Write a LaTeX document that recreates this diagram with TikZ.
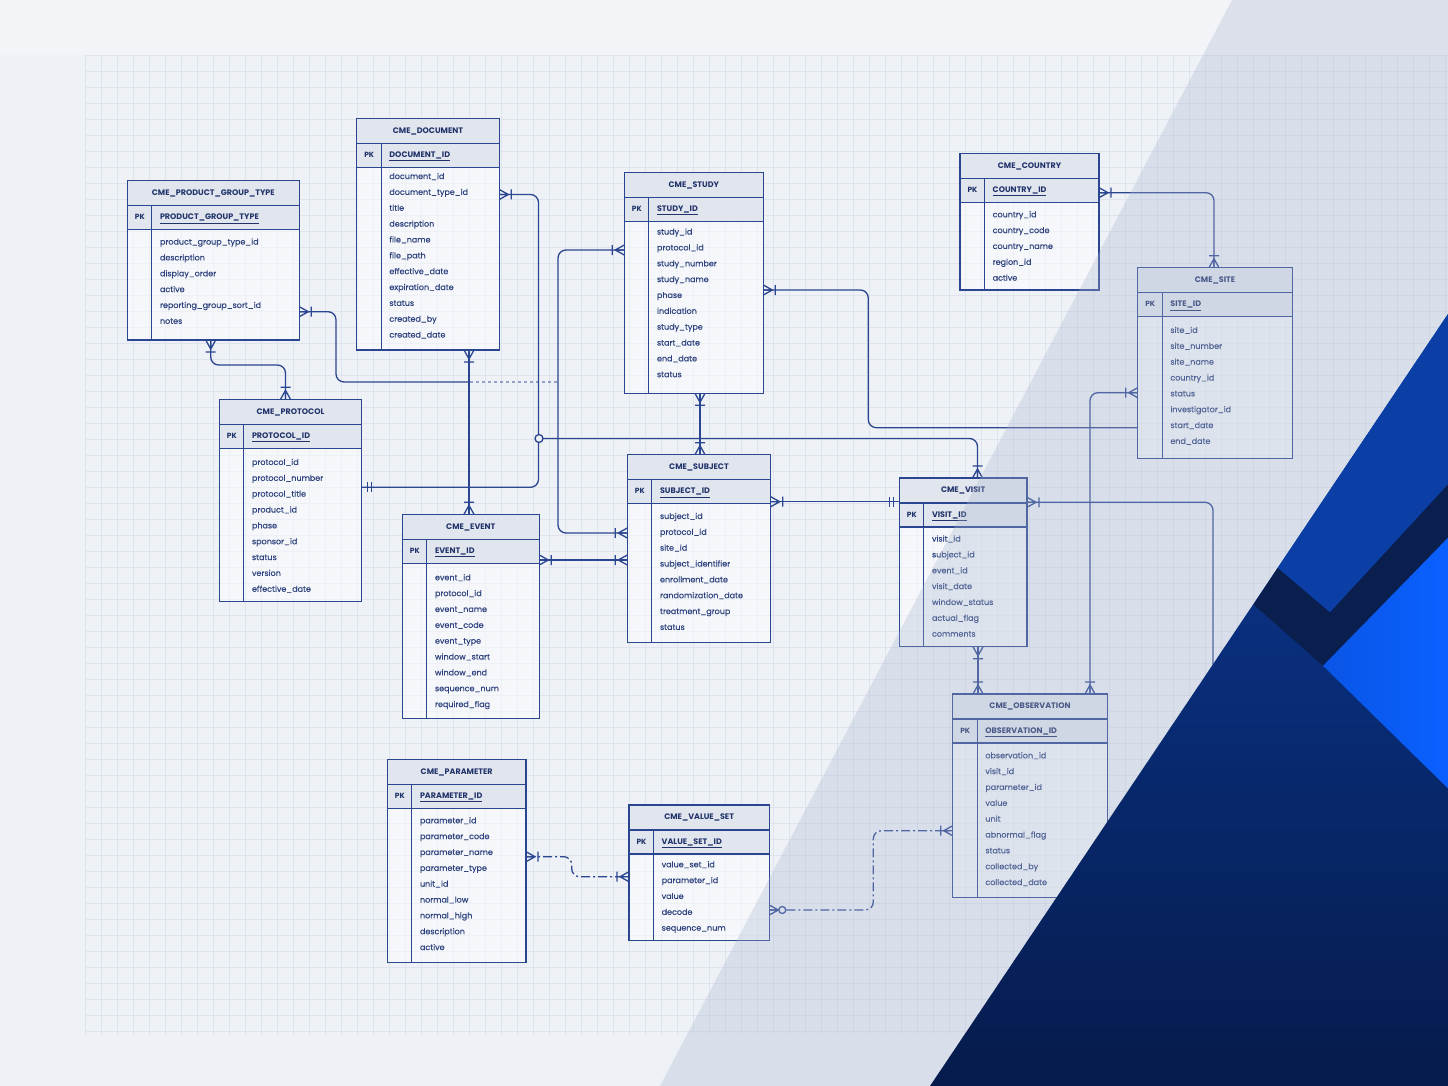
\documentclass[tikz,border=0pt]{standalone}
\usepackage{fontspec}
\setmainfont{Poppins}
\newfontfamily\fldfont{Poppins}[FakeBold=0.35]
\usetikzlibrary{calc}
\definecolor{bg}{HTML}{EEF1F6}
\definecolor{bgtop}{HTML}{F2F4F8}
\definecolor{grd}{HTML}{DFE4EC}
\definecolor{ln}{HTML}{2B4690}
\definecolor{tx}{HTML}{2E427E}
\definecolor{ttx}{HTML}{22336B}
\definecolor{hd}{HTML}{E1E6EE}
\definecolor{ovl}{HTML}{A7B5CF}
\definecolor{blA}{HTML}{0B3C9E}
\definecolor{blAb}{HTML}{061B4C}
\definecolor{blB}{HTML}{0B3FA6}
\definecolor{blC}{HTML}{0A1F4E}
\definecolor{blD}{HTML}{0A55E6}
\definecolor{blDr}{HTML}{0A60FF}
\tikzset{
  conn/.style={draw=ln, line width=1.3pt, rounded corners=8pt},
  ddash/.style={dash pattern=on 9pt off 3pt on 2pt off 3pt},
  mk/.style={draw=ln, line width=1.3pt},
  tblbody/.style={fill=white, fill opacity=.45, inner sep=0pt, outer sep=0pt},
  tline/.style={draw=ln, line width=1.2pt},
  tborder/.style={draw=ln, line width=1.5pt},
  ttl/.style={font=\bfseries\fontsize{8}{9}\selectfont, text=ttx, inner sep=0pt, text height=6pt, text depth=1.5pt},
  pkl/.style={font=\bfseries\fontsize{7.5}{9}\selectfont, text=ttx, inner sep=0pt, text height=6pt, text depth=1.5pt},
  pkn/.style={anchor=west, font=\bfseries\fontsize{8}{9}\selectfont, text=ttx, inner sep=0pt, text height=6pt, text depth=1.5pt},
  fld/.style={anchor=west, font=\fldfont\fontsize{8}{9}\selectfont, text=tx, inner sep=0pt, text height=6pt, text depth=1.5pt},
  mmany/.pic={\draw[mk] (0,-5) -- (9,0) -- (0,5) (0,0) -- (9,0) (12,-5) -- (12,5);},
  mone/.pic={\draw[mk] (6,-5) -- (6,5) (10,-5) -- (10,5);},
  zmany/.pic={\draw[mk] (0,-5) -- (9,0) -- (0,5) (0,0) -- (9,0); \draw[mk, fill=bg] (13,0) circle (3.5pt);},
  zcirc/.pic={\draw[mk, fill=bg] (0,0) circle (4pt);},
}
% name, x1, y1, x2, y2, title, pk, fields, first field offset
\newcommand\ertable[9]{%
  \pgfmathsetmacro\tw{#4-#2}\pgfmathsetmacro\th{#5-#3}%
  \node[tblbody, minimum width=\tw pt, minimum height=\th pt, anchor=north west] (#1) at (#2,#3) {};
  \fill[hd] (#1.north west) rectangle ([yshift=-49pt]#1.north east);
  \draw[tline] ([yshift=-25pt]#1.north west) -- ([yshift=-25pt]#1.north east);
  \draw[tline] ([yshift=-49pt]#1.north west) -- ([yshift=-49pt]#1.north east);
  \draw[tline] ([xshift=24.5pt,yshift=-25pt]#1.north west) -- ([xshift=24.5pt]#1.south west);
  \draw[tborder] (#1.north west) rectangle (#1.south east);
  \node[ttl] (#1-t) at ([yshift=-12.5pt]#1.north) {#6};
  \node[pkl] (#1-pkl) at ([xshift=12.5pt,yshift=-37pt]#1.north west) {PK};
  \node[pkn] (#1-pk) at ([xshift=32.5pt,yshift=-37pt]#1.north west) {\underline{#7}};
  \foreach \f [count=\i] in {#8} {%
    \pgfmathsetmacro\yy{#9+(\i-1)*15.85}%
    \node[fld] (#1-\i) at ([xshift=32.5pt,yshift=-\yy pt]#1.north west) {\f};}
}
\begin{document}
\begin{tikzpicture}[x=1pt,y=-1pt]
\useasboundingbox (0,0) rectangle (1448,1086);
\fill[bg] (0,0) rectangle (1448,1086);
\fill[bgtop] (0,0) rectangle (1448,55);
% grid
\foreach \gx in {85,101,...,1448} \draw[grd, line width=.5pt] (\gx,55) -- (\gx,1035);
\foreach \gy in {55,71,...,1035} \draw[grd, line width=.5pt] (85,\gy) -- (1448,\gy);

% tables
\ertable{pgt}{127.3}{180.7}{299.3}{340}{CME\_PRODUCT\_GROUP\_TYPE}{PRODUCT\_GROUP\_TYPE}{product\_group\_type\_id,description,display\_order,active,reporting\_group\_sort\_id,notes}{61.6}
\ertable{doc}{356.7}{118.3}{499.3}{350}{CME\_DOCUMENT}{DOCUMENT\_ID}{document\_id,document\_type\_id,title,description,file\_name,file\_path,effective\_date,expiration\_date,status,created\_by,created\_date}{58.5}
\ertable{study}{624.3}{172.3}{763.3}{393.3}{CME\_STUDY}{STUDY\_ID}{study\_id,protocol\_id,study\_number,study\_name,phase,indication,study\_type,start\_date,end\_date,status}{60}
\ertable{country}{960}{153.3}{1099}{290}{CME\_COUNTRY}{COUNTRY\_ID}{country\_id,country\_code,country\_name,region\_id,active}{61.7}
\ertable{site}{1137.7}{267.7}{1292.3}{458.3}{CME\_SITE}{SITE\_ID}{site\_id,site\_number,site\_name,country\_id,status,investigator\_id,start\_date,end\_date}{63}
\ertable{protocol}{219.3}{399.3}{361.7}{601.7}{CME\_PROTOCOL}{PROTOCOL\_ID}{protocol\_id,protocol\_number,protocol\_title,product\_id,phase,sponsor\_id,status,version,effective\_date}{63.4}
\ertable{event}{402.3}{514.3}{539.3}{718.3}{CME\_EVENT}{EVENT\_ID}{event\_id,protocol\_id,event\_name,event\_code,event\_type,window\_start,window\_end,sequence\_num,required\_flag}{63.7}
\ertable{subject}{627.3}{454.7}{770.7}{642.3}{CME\_SUBJECT}{SUBJECT\_ID}{subject\_id,protocol\_id,site\_id,subject\_identifier,enrollment\_date,randomization\_date,treatment\_group,status}{62}
\ertable{visit}{899.3}{478}{1027}{646.7}{CME\_VISIT}{VISIT\_ID}{visit\_id,subject\_id,event\_id,visit\_date,window\_status,actual\_flag,comments}{61.3}
\ertable{obs}{952.7}{694}{1107.3}{897.3}{CME\_OBSERVATION}{OBSERVATION\_ID}{observation\_id,visit\_id,parameter\_id,value,unit,abnormal\_flag,status,collected\_by,collected\_date}{62}
\ertable{param}{387.3}{759.3}{526}{962.3}{CME\_PARAMETER}{PARAMETER\_ID}{parameter\_id,parameter\_code,parameter\_name,parameter\_type,unit\_id,normal\_low,normal\_high,description,active}{61.7}
\ertable{valset}{629}{805}{769.3}{940.7}{CME\_VALUE\_SET}{VALUE\_SET\_ID}{value\_set\_id,parameter\_id,value,decode,sequence\_num}{60}

% junction coordinates
\coordinate (j1) at ([xshift=-66.3pt,yshift=-209.7pt]study.north west);
\coordinate (j2) at ([xshift=39.7pt,yshift=-320.2pt]doc.north east);
\coordinate (c12end) at ([xshift=186pt,yshift=-290pt]visit.north east);

% connectors
\draw[conn] ([xshift=83.4pt]pgt.south west) -- ++(0,25) -| ([xshift=66.2pt]protocol.north west);
\draw[conn] ([yshift=-131pt]pgt.north east) -| (336,382) -- (470,382);
\draw[conn, rounded corners=0pt, dashed, draw opacity=.45] (470,382) -- (j1);
\draw[conn] ([yshift=-77.7pt]study.north west) -| (558,533) -- ([yshift=-78.3pt]subject.north west);
\draw[conn] ([yshift=-76.2pt]doc.north east) -| (538.5,487.3) -- ([yshift=-88pt]protocol.north east);
\draw[conn] (j2) -| ([xshift=78.2pt]visit.north west);
\draw[conn] ([xshift=112.3pt]doc.south west) -- ([xshift=66.7pt]event.north west);
\draw[conn] ([xshift=75.7pt]study.south west) -- ([xshift=72.7pt]subject.north west);
\draw[conn] ([yshift=-117.7pt]study.north east) -| (868.3,427.7) -- ([yshift=-160pt]site.north west);
\draw[conn] ([yshift=-39.4pt]country.north east) -| ([xshift=76.3pt]site.north west);
\draw[conn] ([yshift=-47pt]subject.north east) -- ([yshift=-23.7pt]visit.north west);
\draw[conn] ([yshift=-45.7pt]event.north east) -- ([yshift=-105.3pt]subject.north west);
\draw[conn] ([yshift=-24.3pt]visit.north east) -| (c12end);
\draw[conn] ([xshift=78.7pt]visit.south west) -- ([xshift=25.3pt]obs.north west);
\draw[conn] ([yshift=-125pt]site.north west) -| ([xshift=137.3pt]obs.north west);
\draw[conn, ddash] ([yshift=-97.4pt]param.north east) -| (571.7,876.7) -- ([yshift=-71.7pt]valset.north west);
\draw[conn, ddash] ([yshift=-105pt]valset.north east) -| (873.3,830.7) -- ([yshift=-136.7pt]obs.north west);

% markers
\pic[rotate=-90] at ([xshift=83.4pt]pgt.south west) {mmany};
\pic[rotate=90] at ([xshift=66.2pt]protocol.north west) {mmany};
\pic at ([yshift=-131pt]pgt.north east) {mmany};
\pic[rotate=180] at ([yshift=-77.7pt]study.north west) {mmany};
\pic[rotate=180] at ([yshift=-78.3pt]subject.north west) {mmany};
\pic at ([yshift=-76.2pt]doc.north east) {mmany};
\pic at ([yshift=-88pt]protocol.north east) {mone};
\pic at (j2) {zcirc};
\pic[rotate=90] at ([xshift=78.2pt]visit.north west) {mmany};
\pic[rotate=-90] at ([xshift=112.3pt]doc.south west) {mmany};
\pic[rotate=90] at ([xshift=66.7pt]event.north west) {mmany};
\pic[rotate=-90] at ([xshift=75.7pt]study.south west) {mmany};
\pic[rotate=90] at ([xshift=72.7pt]subject.north west) {mmany};
\pic at ([yshift=-117.7pt]study.north east) {mmany};
\pic at ([yshift=-39.4pt]country.north east) {mmany};
\pic[rotate=90] at ([xshift=76.3pt]site.north west) {mmany};
\pic at ([yshift=-47pt]subject.north east) {mmany};
\pic[rotate=180] at ([yshift=-23.7pt]visit.north west) {mone};
\pic at ([yshift=-45.7pt]event.north east) {mmany};
\pic[rotate=180] at ([yshift=-105.3pt]subject.north west) {mmany};
\pic at ([yshift=-24.3pt]visit.north east) {mmany};
\pic[rotate=-90] at ([xshift=78.7pt]visit.south west) {mmany};
\pic[rotate=90] at ([xshift=25.3pt]obs.north west) {mmany};
\pic[rotate=180] at ([yshift=-125pt]site.north west) {mmany};
\pic[rotate=90] at ([xshift=137.3pt]obs.north west) {mmany};
\pic at ([yshift=-97.4pt]param.north east) {mmany};
\pic[rotate=180] at ([yshift=-71.7pt]valset.north west) {mmany};
\pic at ([yshift=-105pt]valset.north east) {zmany};
\pic[rotate=180] at ([yshift=-136.7pt]obs.north west) {mmany};

% diagonal overlay
\fill[ovl, opacity=.3] (1232,0) -- (1448,0) -- (1448,1086) -- (660,1086) -- cycle;

% blue shapes
\shade[top color=blA, bottom color=blAb] (930,1086) -- (1448,314) -- (1448,1086) -- cycle;
\fill[blB] (1277.6,568) -- (1448,314) -- (1448,484.5) -- (1330,612.5) -- cycle;
\fill[blC] (1277.6,568) -- (1330,612.5) -- (1448,484.5) -- (1448,537.8) -- (1323,665.8) -- (1253.5,604.5) -- cycle;
\shade[left color=blD, right color=blDr] (1323,665.8) -- (1448,537.8) -- (1448,788.4) -- cycle;
\end{tikzpicture}
\end{document}
